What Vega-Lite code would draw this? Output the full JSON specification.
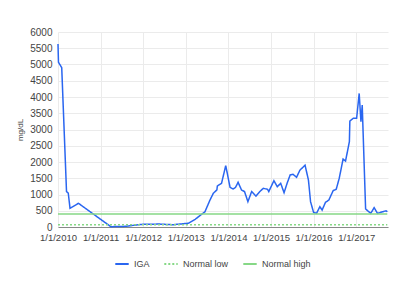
{
  "$schema": "https://vega.github.io/schema/vega-lite/v6.json",
  "autosize": {"type": "none"},
  "width": 330,
  "height": 195,
  "padding": {"left": 58, "top": 32, "right": 12, "bottom": 61},
  "background": "white",
  "config": {
    "font": "Liberation Sans",
    "view": {"stroke": null},
    "axis": {"labelFont": "Liberation Sans", "labelFontSize": 10, "labelColor": "#444", "titleColor": "#444", "gridColor": "#ebebeb", "tickSize": 0, "domain": false, "labelOverlap": false, "labelFlush": false}
  },
  "data": {"values": [
    {"date": "2010-01-01", "value": 5630, "series": "IGA"},
    {"date": "2010-01-05", "value": 5070, "series": "IGA"},
    {"date": "2010-02-02", "value": 4900, "series": "IGA"},
    {"date": "2010-03-15", "value": 1090, "series": "IGA"},
    {"date": "2010-03-30", "value": 1040, "series": "IGA"},
    {"date": "2010-04-14", "value": 575, "series": "IGA"},
    {"date": "2010-06-25", "value": 730, "series": "IGA"},
    {"date": "2011-03-30", "value": 10, "series": "IGA"},
    {"date": "2011-08-01", "value": 20, "series": "IGA"},
    {"date": "2011-10-05", "value": 50, "series": "IGA"},
    {"date": "2011-12-15", "value": 80, "series": "IGA"},
    {"date": "2012-05-20", "value": 90, "series": "IGA"},
    {"date": "2012-09-12", "value": 70, "series": "IGA"},
    {"date": "2013-01-22", "value": 115, "series": "IGA"},
    {"date": "2013-03-22", "value": 237, "series": "IGA"},
    {"date": "2013-06-14", "value": 470, "series": "IGA"},
    {"date": "2013-07-27", "value": 830, "series": "IGA"},
    {"date": "2013-08-25", "value": 1040, "series": "IGA"},
    {"date": "2013-09-24", "value": 1140, "series": "IGA"},
    {"date": "2013-09-28", "value": 1260, "series": "IGA"},
    {"date": "2013-11-03", "value": 1345, "series": "IGA"},
    {"date": "2013-12-09", "value": 1890, "series": "IGA"},
    {"date": "2014-01-15", "value": 1220, "series": "IGA"},
    {"date": "2014-02-10", "value": 1170, "series": "IGA"},
    {"date": "2014-03-03", "value": 1220, "series": "IGA"},
    {"date": "2014-03-25", "value": 1375, "series": "IGA"},
    {"date": "2014-04-23", "value": 1140, "series": "IGA"},
    {"date": "2014-05-19", "value": 1090, "series": "IGA"},
    {"date": "2014-06-17", "value": 780, "series": "IGA"},
    {"date": "2014-07-19", "value": 1090, "series": "IGA"},
    {"date": "2014-08-25", "value": 950, "series": "IGA"},
    {"date": "2014-09-27", "value": 1090, "series": "IGA"},
    {"date": "2014-10-27", "value": 1190, "series": "IGA"},
    {"date": "2014-12-02", "value": 1160, "series": "IGA"},
    {"date": "2014-12-13", "value": 1090, "series": "IGA"},
    {"date": "2015-01-26", "value": 1425, "series": "IGA"},
    {"date": "2015-02-24", "value": 1240, "series": "IGA"},
    {"date": "2015-03-25", "value": 1345, "series": "IGA"},
    {"date": "2015-04-23", "value": 1055, "series": "IGA"},
    {"date": "2015-05-19", "value": 1345, "series": "IGA"},
    {"date": "2015-06-14", "value": 1600, "series": "IGA"},
    {"date": "2015-07-09", "value": 1620, "series": "IGA"},
    {"date": "2015-08-08", "value": 1530, "series": "IGA"},
    {"date": "2015-09-06", "value": 1750, "series": "IGA"},
    {"date": "2015-10-20", "value": 1900, "series": "IGA"},
    {"date": "2015-11-18", "value": 1445, "series": "IGA"},
    {"date": "2015-12-06", "value": 780, "series": "IGA"},
    {"date": "2016-01-01", "value": 450, "series": "IGA"},
    {"date": "2016-01-26", "value": 420, "series": "IGA"},
    {"date": "2016-02-24", "value": 625, "series": "IGA"},
    {"date": "2016-03-14", "value": 520, "series": "IGA"},
    {"date": "2016-04-12", "value": 760, "series": "IGA"},
    {"date": "2016-05-11", "value": 830, "series": "IGA"},
    {"date": "2016-06-17", "value": 1120, "series": "IGA"},
    {"date": "2016-07-13", "value": 1160, "series": "IGA"},
    {"date": "2016-08-08", "value": 1500, "series": "IGA"},
    {"date": "2016-09-10", "value": 2090, "series": "IGA"},
    {"date": "2016-10-01", "value": 2030, "series": "IGA"},
    {"date": "2016-11-03", "value": 2625, "series": "IGA"},
    {"date": "2016-11-07", "value": 3260, "series": "IGA"},
    {"date": "2016-12-06", "value": 3345, "series": "IGA"},
    {"date": "2017-01-04", "value": 3345, "series": "IGA"},
    {"date": "2017-01-26", "value": 4110, "series": "IGA"},
    {"date": "2017-02-10", "value": 3240, "series": "IGA"},
    {"date": "2017-02-21", "value": 3750, "series": "IGA"},
    {"date": "2017-03-22", "value": 555, "series": "IGA"},
    {"date": "2017-05-05", "value": 420, "series": "IGA"},
    {"date": "2017-06-03", "value": 595, "series": "IGA"},
    {"date": "2017-07-02", "value": 420, "series": "IGA"},
    {"date": "2017-08-15", "value": 470, "series": "IGA"},
    {"date": "2017-09-13", "value": 500, "series": "IGA"},
    {"date": "2017-09-24", "value": 470, "series": "IGA"},
    {"date": "2010-01-01", "value": 70, "series": "Normal low"},
    {"date": "2017-09-24", "value": 70, "series": "Normal low"},
    {"date": "2010-01-01", "value": 400, "series": "Normal high"},
    {"date": "2017-09-24", "value": 400, "series": "Normal high"}
  ]},
  "mark": {"type": "line", "strokeWidth": 1.5},
  "encoding": {
    "x": {
      "field": "date", "type": "temporal",
      "scale": {"domain": [{"year": 2010, "month": 1, "date": 1}, {"year": 2017, "month": 9, "date": 30}]},
      "axis": {
        "title": null, "format": "%-m/%-d/%Y", "labelFontSize": 9.5, "labelPadding": 5,
        "domain": true, "domainColor": "#888", "domainWidth": 1.2,
        "values": [
          {"year": 2010, "month": 1, "date": 1}, {"year": 2011, "month": 1, "date": 1},
          {"year": 2012, "month": 1, "date": 1}, {"year": 2013, "month": 1, "date": 1},
          {"year": 2014, "month": 1, "date": 1}, {"year": 2015, "month": 1, "date": 1},
          {"year": 2016, "month": 1, "date": 1}, {"year": 2017, "month": 1, "date": 1}
        ]
      }
    },
    "y": {
      "field": "value", "type": "quantitative",
      "scale": {"domain": [0, 6000], "nice": false},
      "axis": {"title": "mg/dL", "format": "d", "titleFontSize": 8, "titleFontWeight": "normal", "titlePadding": 5, "labelPadding": 6,
        "values": [0, 500, 1000, 1500, 2000, 2500, 3000, 3500, 4000, 4500, 5000, 5500, 6000]}
    },
    "color": {
      "field": "series", "type": "nominal",
      "scale": {"domain": ["IGA", "Normal low", "Normal high"], "range": ["#2a66f0", "#86d886", "#86d886"]},
      "legend": {"title": null, "orient": "none", "legendX": 56, "legendY": 224, "direction": "horizontal", "labelFontSize": 9, "labelColor": "#444", "symbolStrokeWidth": 2, "symbolSize": 180, "columnPadding": 10}
    },
    "strokeDash": {
      "field": "series", "type": "nominal",
      "scale": {"domain": ["IGA", "Normal low", "Normal high"], "range": [[1, 0], [2, 2], [1, 0]]},
      "legend": {"title": null, "orient": "none", "legendX": 56, "legendY": 224, "direction": "horizontal", "labelFontSize": 9, "labelColor": "#444", "symbolStrokeWidth": 2, "symbolSize": 180, "columnPadding": 10}
    }
  }
}
